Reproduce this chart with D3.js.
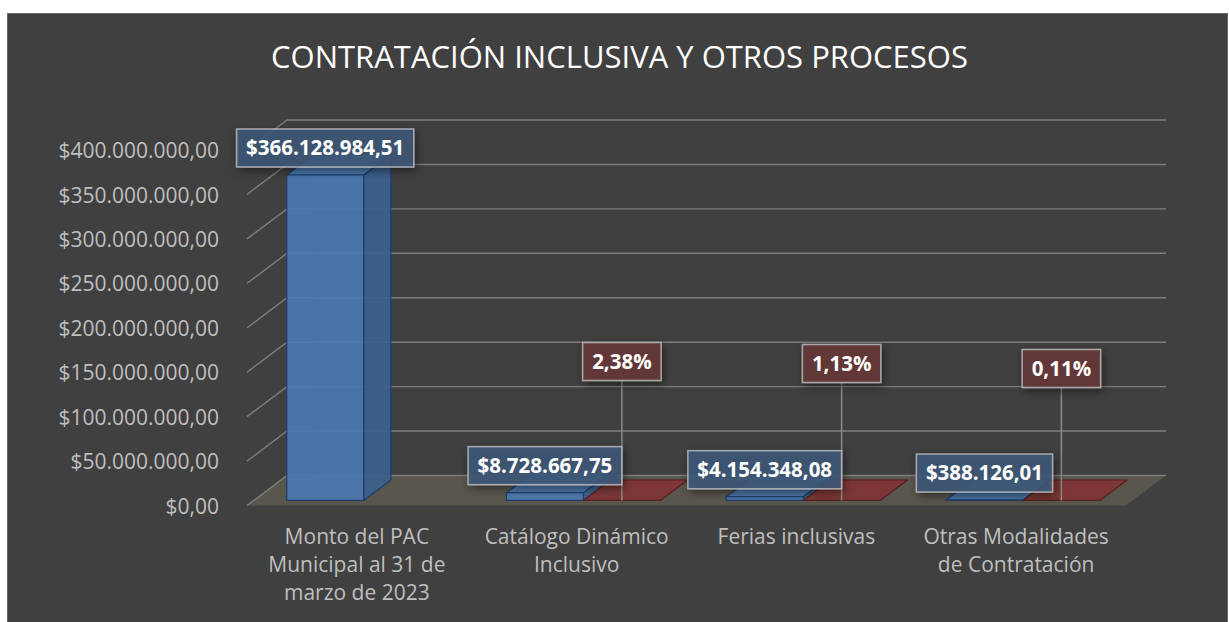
<!DOCTYPE html>
<html>
<head>
<meta charset="utf-8">
<script src="https://cdn.jsdelivr.net/npm/d3@7"></script>
<style>
  html, body { margin: 0; padding: 0; background: #ffffff; }
  svg { display: block; }
  text { font-family: "Open Sans", "Noto Sans", sans-serif; }
</style>
</head>
<body>
<svg id="chart" width="1229" height="622"></svg>
<script>
// ---------------- data ----------------
const chartTitle = "CONTRATACIÓN INCLUSIVA Y OTROS PROCESOS";
const categories = [
  "Monto del PAC Municipal al 31 de marzo de 2023",
  "Catálogo Dinámico Inclusivo",
  "Ferias inclusivas",
  "Otras Modalidades de Contratación"
];
const montos = [366128984.51, 8728667.75, 4154348.08, 388126.01];
const porcentajes = [null, 0.0238, 0.0113, 0.0011];
const yTicks = [0, 50000000, 100000000, 150000000, 200000000, 250000000, 300000000, 350000000, 400000000];
const seriesKeys = ["monto", "porcentaje"];

// -------------- layout (not data) --------------
const pctLabelLift = [0, 125, 123, 118];   // vertical distance of percentage label boxes above the floor

const svg = d3.select("#chart");

const locale = d3.formatLocale({ decimal: ",", thousands: ".", grouping: [3], currency: ["$", ""] });
const fmtMoney = locale.format("$,.2f");
const fmtPct = locale.format(".2%");

// background
svg.append("rect").attr("x", 7.5).attr("y", 13.5).attr("width", 1220).attr("height", 620)
  .attr("fill", "#404040").attr("stroke", "#6a6a6a").attr("stroke-width", 1);

// shadow filter
const defs = svg.append("defs");
const f = defs.append("filter").attr("id", "shadow").attr("x", "-30%").attr("y", "-40%").attr("width", "160%").attr("height", "190%");
f.append("feDropShadow").attr("dx", 2).attr("dy", 3).attr("stdDeviation", 5)
  .attr("flood-color", "#000").attr("flood-opacity", 0.55);

// title
svg.append("text").attr("x", 619.5).attr("y", 68).attr("text-anchor", "middle")
  .attr("fill", "#ffffff").style("font-size", "31px").text(chartTitle);

// scales
const floorL = 247, floorR = 1126;
const DX = 40, DY = -30;          // full depth projection
const d0 = 0.17, d1 = 0.85;       // bar depth extent

const y = d3.scaleLinear().domain([0, 400000000]).range([505.5, 150]);
const x0 = d3.scaleBand().domain(categories).range([floorL, floorR]).paddingInner(0.3).paddingOuter(0.15);
const x1 = d3.scaleBand().domain(seriesKeys).range([0, x0.bandwidth()]);

const P = (xf, v, d) => [xf + DX * d, y(v) + DY * d];
const poly = pts => "M" + pts.map(p => p.join(",")).join("L") + "Z";

// floor
svg.append("path")
  .attr("d", poly([P(floorL, 0, 0), P(floorR, 0, 0), P(floorR, 0, 1), P(floorL, 0, 1)]))
  .attr("fill", "#59564e");

// gridlines: side wall diagonals + back wall horizontals
const grid = svg.append("g").attr("stroke", "#7e7e7e").attr("stroke-width", 1.4).attr("fill", "none");
yTicks.forEach(t => {
  grid.append("path").attr("d", "M" + P(floorL, t, 0).join(",") + "L" + P(floorL, t, 1).join(",") + "L" + P(floorR, t, 1).join(","));
});

// y axis (labels only)
const yAxis = d3.axisLeft(y).tickValues(yTicks).tickSize(0).tickPadding(28).tickFormat(fmtMoney);
const ga = svg.append("g").attr("transform", `translate(${floorL},0)`).call(yAxis);
ga.select(".domain").remove();
ga.selectAll("text").attr("fill", "#bfbfbf").style("font-size", "21px")
  .style("font-family", "'Open Sans', sans-serif").attr("dy", "0.36em");

// bars
function drawBar(g, xl, w, v, col) {
  const xr = xl + w;
  const fbl = P(xl, 0, d0), fbr = P(xr, 0, d0), ftl = P(xl, v, d0), ftr = P(xr, v, d0);
  const bbl = P(xl, 0, d1), bbr = P(xr, 0, d1), btl = P(xl, v, d1), btr = P(xr, v, d1);
  // back/internal edges (visible through translucency)
  g.append("path").attr("d", poly([bbl, bbr, btr, btl])).attr("fill", col.front).attr("fill-opacity", 0.25)
    .attr("stroke", col.edge).attr("stroke-opacity", 0.35).attr("stroke-width", 1);
  g.append("path").attr("d", "M" + fbl.join(",") + "L" + bbl.join(","))
    .attr("stroke", col.edge).attr("stroke-opacity", 0.35).attr("fill", "none");
  // right side
  g.append("path").attr("d", poly([fbr, bbr, btr, ftr])).attr("fill", col.side).attr("fill-opacity", 0.92)
    .attr("stroke", col.edge).attr("stroke-width", 1.2).attr("stroke-linejoin", "round");
  // top
  g.append("path").attr("d", poly([ftl, ftr, btr, btl])).attr("fill", col.top).attr("fill-opacity", 0.92)
    .attr("stroke", col.edge).attr("stroke-width", 1.2).attr("stroke-linejoin", "round");
  // front
  g.append("path").attr("d", poly([fbl, fbr, ftr, ftl])).attr("fill", col.front).attr("fill-opacity", 0.9)
    .attr("stroke", col.edge).attr("stroke-width", 1.2).attr("stroke-linejoin", "round");
}
const blue = { front: "#4b79b1", side: "#3b5f8d", top: "#4b79b1", edge: "#1f3e6b" };
const red = { front: "#7e3333", side: "#6a2a2a", top: "#7e3333", edge: "#5a2222" };

const barsG = svg.append("g");
categories.forEach((c, i) => {
  const g = barsG.append("g");
  drawBar(g, x0(c) + x1("monto"), x1.bandwidth(), montos[i], blue);
  if (porcentajes[i] != null) {
    drawBar(g, x0(c) + x1("porcentaje"), x1.bandwidth(), porcentajes[i], red);
  }
});

// category labels
const catG = svg.append("g");
categories.forEach(c => {
  const cx = x0(c) + x0.bandwidth() / 2;
  const t = catG.append("text").attr("x", cx).attr("y", 544)
    .attr("text-anchor", "middle").attr("fill", "#bfbfbf").style("font-size", "21px");
  const words = c.split(" ");
  let line = [];
  let ts = t.append("tspan").attr("x", cx).attr("dy", 0);
  words.forEach(wd => {
    line.push(wd);
    ts.text(line.join(" "));
    if (ts.node().getComputedTextLength() > 205 && line.length > 1) {
      line.pop();
      ts.text(line.join(" "));
      line = [wd];
      ts = t.append("tspan").attr("x", cx).attr("dy", 28).text(wd);
    }
  });
});

// data labels
function labelBox(g, cx, bottom, txt, fill) {
  const lg = g.append("g");
  const t = lg.append("text").attr("x", cx).attr("text-anchor", "middle").attr("fill", "#ffffff")
    .style("font-size", "20.5px").style("font-weight", "700").text(txt);
  const tw = t.node().getComputedTextLength();
  const bw = tw + 19, bh = 38;
  lg.insert("rect", "text").attr("x", cx - bw / 2).attr("y", bottom - bh).attr("width", bw).attr("height", bh)
    .attr("fill", fill).attr("fill-opacity", 0.88).attr("stroke", "#c8c8c8").attr("stroke-opacity", 0.75)
    .attr("stroke-width", 1.5).attr("filter", "url(#shadow)");
  t.attr("y", bottom - bh / 2).attr("dy", "0.36em");
}

const labG = svg.append("g");
// leader lines first
categories.forEach((c, i) => {
  if (porcentajes[i] == null) return;
  const cx = x0(c) + x1("porcentaje") + x1.bandwidth() / 2 + DX * d0;
  const base = P(0, porcentajes[i], d0)[1];
  labG.append("line").attr("x1", cx).attr("x2", cx).attr("y1", base).attr("y2", y(0) - pctLabelLift[i])
    .attr("stroke", "#8c8c8c").attr("stroke-width", 1.5);
});
categories.forEach((c, i) => {
  const cx = x0(c) + x1("monto") + x1.bandwidth() / 2 + DX * d0;
  const top = P(0, montos[i], d0)[1];
  labelBox(labG, cx, top - 8, fmtMoney(montos[i]), "#3f5878");
  if (porcentajes[i] != null) {
    const px = x0(c) + x1("porcentaje") + x1.bandwidth() / 2 + DX * d0;
    labelBox(labG, px, y(0) - pctLabelLift[i], fmtPct(porcentajes[i]), "#673a3a");
  }
});
</script>
</body>
</html>
